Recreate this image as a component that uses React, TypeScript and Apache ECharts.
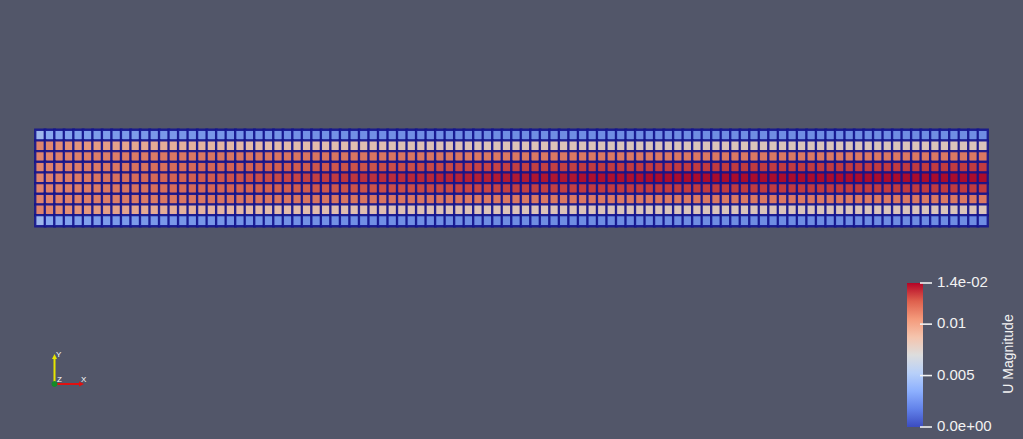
import React, { useEffect, useRef } from "react";
import * as echarts from "echarts";

// ---- data (U magnitude per cell, rows read top to bottom of the channel) ----
const rowWall = [
  0.0045, 0.0036, 0.0034, 0.0033, 0.0032, 0.0032, 0.0031, 0.0031, 0.003, 0.003,
  0.003, 0.0029, 0.0029, 0.0029, 0.0029, 0.0028, 0.0028, 0.0028, 0.0028, 0.0028,
  0.0027, 0.0027, 0.0027, 0.0027, 0.0027, 0.0027, 0.0026, 0.0026, 0.0026, 0.0026,
  0.0026, 0.0026, 0.0025, 0.0025, 0.0025, 0.0025, 0.0025, 0.0025, 0.0025, 0.0025,
  0.0025, 0.0025, 0.0025, 0.0024, 0.0024, 0.0024, 0.0024, 0.0024, 0.0024, 0.0024,
  0.0024, 0.0024, 0.0024, 0.0024, 0.0024, 0.0024, 0.0024, 0.0024, 0.0024, 0.0024,
  0.0024, 0.0024, 0.0024, 0.0024, 0.0024, 0.0024, 0.0024, 0.0024, 0.0024, 0.0024,
  0.0024, 0.0024, 0.0024, 0.0024, 0.0024, 0.0024, 0.0024, 0.0024, 0.0024, 0.0024,
  0.0024, 0.0024, 0.0024, 0.0024, 0.0024, 0.0024, 0.0024, 0.0024, 0.0024, 0.0024,
  0.0024, 0.0024, 0.0024, 0.0024, 0.0024, 0.0024, 0.0024, 0.0024, 0.0024, 0.0024,
];
const rowNearWall = [
  0.011, 0.0109, 0.0107, 0.0106, 0.0104, 0.0103, 0.0101, 0.01, 0.0098, 0.0097,
  0.0096, 0.0095, 0.0094, 0.0093, 0.0092, 0.0091, 0.0091, 0.009, 0.0089, 0.0089,
  0.0088, 0.0088, 0.0087, 0.0087, 0.0086, 0.0086, 0.0086, 0.0085, 0.0085, 0.0085,
  0.0084, 0.0084, 0.0084, 0.0083, 0.0083, 0.0083, 0.0083, 0.0082, 0.0082, 0.0082,
  0.0082, 0.0081, 0.0081, 0.0081, 0.0081, 0.0081, 0.008, 0.008, 0.008, 0.008,
  0.008, 0.008, 0.008, 0.008, 0.008, 0.008, 0.008, 0.008, 0.008, 0.008,
  0.0079, 0.0079, 0.0079, 0.0079, 0.0079, 0.0079, 0.0079, 0.0079, 0.0079, 0.0079,
  0.0079, 0.0079, 0.0079, 0.0079, 0.0079, 0.0079, 0.0079, 0.0079, 0.0079, 0.0079,
  0.0079, 0.0079, 0.0079, 0.0079, 0.0079, 0.0079, 0.0079, 0.0079, 0.0079, 0.0079,
  0.0079, 0.0079, 0.0079, 0.0079, 0.0079, 0.0079, 0.0079, 0.0079, 0.0079, 0.0079,
];
const rowMid = [
  0.011, 0.011, 0.0111, 0.0111, 0.0111, 0.0112, 0.0112, 0.0112, 0.0112, 0.0113,
  0.0113, 0.0113, 0.0113, 0.0114, 0.0114, 0.0114, 0.0114, 0.0114, 0.0115, 0.0115,
  0.0115, 0.0115, 0.0115, 0.0115, 0.0115, 0.0115, 0.0115, 0.0115, 0.0115, 0.0115,
  0.0115, 0.0115, 0.0115, 0.0115, 0.0115, 0.0115, 0.0115, 0.0115, 0.0115, 0.0115,
  0.0115, 0.0115, 0.0115, 0.0115, 0.0115, 0.0114, 0.0114, 0.0114, 0.0114, 0.0114,
  0.0114, 0.0114, 0.0114, 0.0114, 0.0114, 0.0114, 0.0114, 0.0114, 0.0114, 0.0114,
  0.0114, 0.0114, 0.0114, 0.0114, 0.0114, 0.0114, 0.0114, 0.0114, 0.0114, 0.0114,
  0.0114, 0.0114, 0.0114, 0.0114, 0.0114, 0.0114, 0.0114, 0.0114, 0.0114, 0.0114,
  0.0114, 0.0114, 0.0114, 0.0114, 0.0114, 0.0114, 0.0114, 0.0114, 0.0114, 0.0114,
  0.0114, 0.0114, 0.0114, 0.0114, 0.0114, 0.0114, 0.0114, 0.0114, 0.0114, 0.0114,
];
const rowInner = [
  0.011, 0.0111, 0.0111, 0.0112, 0.0112, 0.0113, 0.0113, 0.0114, 0.0114, 0.0115,
  0.0116, 0.0116, 0.0117, 0.0117, 0.0118, 0.0118, 0.0119, 0.0119, 0.012, 0.012,
  0.0121, 0.0121, 0.0121, 0.0122, 0.0122, 0.0122, 0.0123, 0.0123, 0.0123, 0.0124,
  0.0124, 0.0124, 0.0125, 0.0125, 0.0125, 0.0125, 0.0126, 0.0126, 0.0126, 0.0126,
  0.0127, 0.0127, 0.0127, 0.0127, 0.0128, 0.0128, 0.0128, 0.0128, 0.0128, 0.0129,
  0.0129, 0.0129, 0.0129, 0.0129, 0.0129, 0.0129, 0.0129, 0.013, 0.013, 0.013,
  0.013, 0.013, 0.013, 0.013, 0.013, 0.013, 0.013, 0.013, 0.013, 0.013,
  0.013, 0.013, 0.013, 0.013, 0.013, 0.013, 0.013, 0.013, 0.013, 0.013,
  0.013, 0.013, 0.013, 0.013, 0.013, 0.013, 0.013, 0.013, 0.013, 0.013,
  0.013, 0.013, 0.013, 0.013, 0.013, 0.013, 0.013, 0.013, 0.013, 0.013,
];
const rowCenter = [
  0.011, 0.0111, 0.0112, 0.0113, 0.0113, 0.0114, 0.0115, 0.0116, 0.0116, 0.0117,
  0.0118, 0.0119, 0.0119, 0.012, 0.0121, 0.0121, 0.0122, 0.0123, 0.0123, 0.0124,
  0.0125, 0.0125, 0.0126, 0.0126, 0.0127, 0.0127, 0.0128, 0.0128, 0.0129, 0.0129,
  0.013, 0.013, 0.0131, 0.0131, 0.0132, 0.0132, 0.0133, 0.0133, 0.0133, 0.0134,
  0.0134, 0.0134, 0.0135, 0.0135, 0.0135, 0.0136, 0.0136, 0.0136, 0.0137, 0.0137,
  0.0137, 0.0137, 0.0138, 0.0138, 0.0138, 0.0138, 0.0138, 0.0139, 0.0139, 0.0139,
  0.0139, 0.0139, 0.0139, 0.0139, 0.014, 0.014, 0.014, 0.014, 0.014, 0.014,
  0.014, 0.014, 0.014, 0.014, 0.014, 0.014, 0.014, 0.014, 0.014, 0.014,
  0.014, 0.014, 0.014, 0.014, 0.014, 0.014, 0.014, 0.014, 0.014, 0.014,
  0.014, 0.014, 0.014, 0.014, 0.014, 0.014, 0.014, 0.014, 0.014, 0.014,
];
// channel rows from top wall to bottom wall (profile is symmetric)
const rowsTopToBottom = [rowWall, rowNearWall, rowMid, rowInner, rowCenter, rowInner, rowMid, rowNearWall, rowWall];

const colorMin = 0;
const colorMax = 0.014;
const tickValues = [0.014, 0.01, 0.005, 0];
const tickLabels = ["1.4e-02", "0.01", "0.005", "0.0e+00"];
const colorTitle = "U Magnitude";
const coolToWarm = ["#3b4cc0", "#6282ea", "#8db0fe", "#b8d0f9", "#dddddd", "#f5c4ad", "#f49a7b", "#de604d", "#b40426"];

export default function App() {
  const ref = useRef<HTMLDivElement>(null);
  useEffect(() => {
    document.body.style.margin = "0";
    document.body.style.background = "#525669";
    const chart = echarts.init(ref.current!, undefined, { renderer: "svg" });
    const nRows = rowsTopToBottom.length;
    const xCats = rowWall.map((_, i) => String(i));
    const yCats = rowsTopToBottom.map((_, i) => String(i));
    const data: number[][] = [];
    rowsTopToBottom.forEach((row, r) => {
      row.forEach((v, c) => data.push([c, nRows - 1 - r, v]));
    });

    const barLeft = 907;
    const barTop = 283;
    const barW = 16;
    const barH = 144;
    const font = "Liberation Sans, Arial, sans-serif";
    const txt = "#f2f2f2";
    const yOf = (v: number) => barTop + barH * (1 - (v - colorMin) / (colorMax - colorMin));

    const graphic: any[] = [];
    // colour bar
    graphic.push({
      type: "rect",
      shape: { x: barLeft, y: barTop, width: barW, height: barH },
      style: {
        fill: new echarts.graphic.LinearGradient(
          0, 1, 0, 0,
          coolToWarm.map((c, i) => ({ offset: i / (coolToWarm.length - 1), color: c }))
        ),
      },
      silent: true,
    });
    tickValues.forEach((v, i) => {
      const y = yOf(v);
      graphic.push({
        type: "line",
        shape: { x1: barLeft + 13, y1: y, x2: barLeft + 25, y2: y },
        style: { stroke: txt, lineWidth: 1.6 },
        silent: true,
      });
      graphic.push({
        type: "text",
        x: barLeft + 30,
        y: y - 1.5,
        style: { text: tickLabels[i], fill: txt, font: `15px ${font}`, textVerticalAlign: "middle", textAlign: "left" },
        silent: true,
      });
    });
    graphic.push({
      type: "text",
      x: 1008,
      y: 354,
      rotation: Math.PI / 2,
      style: { text: colorTitle, fill: txt, font: `14px ${font}`, textAlign: "center", textVerticalAlign: "middle" },
      silent: true,
    });
    // orientation axes triad
    const ox = 54.5;
    const oy = 384;
    graphic.push(
      { type: "line", shape: { x1: ox, y1: oy, x2: ox, y2: 358 }, style: { stroke: "#e6e600", lineWidth: 2 }, silent: true },
      { type: "polygon", shape: { points: [[ox - 2.5, 359], [ox + 2.5, 359], [ox, 354]] }, style: { fill: "#e6e600" }, silent: true },
      { type: "line", shape: { x1: ox, y1: oy, x2: 80, y2: oy }, style: { stroke: "#e01010", lineWidth: 2 }, silent: true },
      { type: "polygon", shape: { points: [[79, oy - 2.5], [79, oy + 2.5], [84, oy]] }, style: { fill: "#e01010" }, silent: true },
      { type: "circle", shape: { cx: ox, cy: oy, r: 3 }, style: { fill: "#138a2a" }, silent: true },
      { type: "text", x: 56, y: 350, style: { text: "Y", fill: "#ffffff", font: `8px ${font}` }, silent: true },
      { type: "text", x: 57, y: 375, style: { text: "Z", fill: "#ffffff", font: `8px ${font}` }, silent: true },
      { type: "text", x: 81, y: 375, style: { text: "X", fill: "#ffffff", font: `8px ${font}` }, silent: true }
    );

    chart.setOption({
      animation: false,
      backgroundColor: "#525669",
      tooltip: { show: false },
      grid: { left: 35.5, top: 130, width: 952, height: 96 },
      xAxis: { type: "category", data: xCats, show: false, boundaryGap: true },
      yAxis: { type: "category", data: yCats, show: false, boundaryGap: true },
      visualMap: {
        type: "continuous",
        show: false,
        min: colorMin,
        max: colorMax,
        seriesIndex: 0,
        inRange: { color: coolToWarm },
      },
      series: [
        {
          type: "heatmap",
          data,
          silent: true,
          itemStyle: { borderColor: "#14148c", borderWidth: 2.3, opacity: 0.9 },
          emphasis: { disabled: true },
        },
      ],
      graphic,
    });
    return () => chart.dispose();
  }, []);
  return <div ref={ref} style={{ position: "fixed", left: 0, top: 0, width: 1023, height: 439 }} />;
}
